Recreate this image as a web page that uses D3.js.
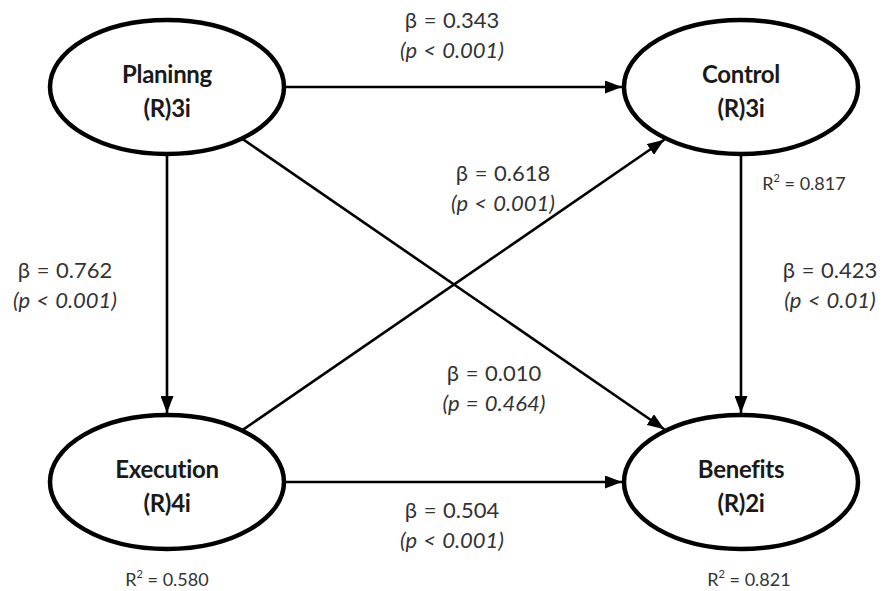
<!DOCTYPE html>
<html>
<head>
<meta charset="utf-8">
<script src="https://cdn.jsdelivr.net/npm/d3@7"></script>
<style>
  body { margin: 0; background: #fff; }
  svg { display: block; }
</style>
</head>
<body>
<div id="diagram"></div>
<script>
// constructs (col / row on a 2x2 grid)
var nodeNames = ["Planinng", "Control", "Execution", "Benefits"];
var nodeSubs = ["(R)3i", "(R)3i", "(R)4i", "(R)2i"];
var nodeCols = [0, 1, 0, 1];
var nodeRows = [0, 0, 1, 1];
var nodeR2 = [null, "0.817", "0.580", "0.821"];

// structural paths
var pathFrom = ["Planinng", "Execution", "Planinng", "Control", "Planinng", "Execution"];
var pathTo = ["Control", "Control", "Execution", "Benefits", "Benefits", "Benefits"];
var pathBeta = ["0.343", "0.618", "0.762", "0.423", "0.010", "0.504"];
var pathP = ["p < 0.001", "p < 0.001", "p < 0.001", "p < 0.01", "p = 0.464", "p < 0.001"];

var width = 884, height = 591;
var rx = 117, ry = 67;

var svg = d3.select("#diagram")
  .append("svg")
  .attr("width", width)
  .attr("height", height);

var x = d3.scaleLinear().domain([0, 1]).range([167, 741]);
var y = d3.scaleLinear().domain([0, 1]).range([87, 482]);

var nodes = nodeNames.map(function(n, i) {
  return {name: n, sub: nodeSubs[i], cx: x(nodeCols[i]), cy: y(nodeRows[i]), r2: nodeR2[i]};
});
var byName = {};
nodes.forEach(function(d) { byName[d.name] = d; });

// arrow head
svg.append("defs").append("marker")
  .attr("id", "head")
  .attr("markerUnits", "userSpaceOnUse")
  .attr("viewBox", "0 0 17 13")
  .attr("refX", 17).attr("refY", 6.5)
  .attr("markerWidth", 17).attr("markerHeight", 13)
  .attr("orient", "auto")
  .append("path")
  .attr("d", "M0,0 L17,6.5 L0,13 Z")
  .attr("fill", "#000");

// point where a ray from the centre leaves the ellipse
function edge(c, dx, dy, pad) {
  var t = 1 / Math.sqrt(Math.pow(dx / (rx + pad), 2) + Math.pow(dy / (ry + pad), 2));
  return [c.cx + dx * t, c.cy + dy * t];
}

var paths = pathFrom.map(function(f, i) {
  var s = byName[f], t = byName[pathTo[i]];
  var dx = t.cx - s.cx, dy = t.cy - s.cy;
  return {a: edge(s, dx, dy, 1), b: edge(t, -dx, -dy, 2), beta: pathBeta[i], p: pathP[i]};
});

svg.selectAll("line.path")
  .data(paths)
  .enter()
  .append("line")
  .attr("class", "path")
  .attr("x1", function(d) { return d.a[0]; })
  .attr("y1", function(d) { return d.a[1]; })
  .attr("x2", function(d) { return d.b[0]; })
  .attr("y2", function(d) { return d.b[1]; })
  .attr("stroke", "#000")
  .attr("stroke-width", 2.6)
  .attr("marker-end", "url(#head)");

// ellipses
var g = svg.selectAll("g.node")
  .data(nodes)
  .enter()
  .append("g")
  .attr("class", "node")
  .attr("transform", function(d) { return "translate(" + d.cx + "," + d.cy + ")"; })
  .style("font-family", "Lato, 'Open Sans', sans-serif")
  .style("font-weight", "bold")
  .style("font-size", "24px")
  .style("letter-spacing", "-0.3px")
  .attr("fill", "#1a1a1a");

g.append("ellipse")
  .attr("rx", rx).attr("ry", ry)
  .attr("fill", "#fff")
  .attr("stroke", "#000")
  .attr("stroke-width", 4.5);

g.append("text")
  .attr("text-anchor", "middle")
  .attr("y", -4)
  .text(function(d) { return d.name; });

g.append("text")
  .attr("text-anchor", "middle")
  .attr("y", 30)
  .text(function(d) { return d.sub; });

// label placement for each path (same order as the path arrays)
var labelPos = [[452, 28], [503, 181], [65, 278], [830, 278], [494, 381], [452, 518]];

var lab = svg.selectAll("g.lab")
  .data(paths)
  .enter()
  .append("g")
  .attr("class", "lab")
  .attr("transform", function(d, i) { return "translate(" + labelPos[i][0] + "," + labelPos[i][1] + ")"; })
  .style("font-family", "Lato, 'Open Sans', sans-serif")
  .style("font-size", "22px")
  .style("word-spacing", "1px")
  .attr("fill", "#333");

lab.append("text")
  .attr("text-anchor", "middle")
  .text(function(d) { return "\u03B2 = " + d.beta; });

lab.append("text")
  .attr("text-anchor", "middle")
  .attr("y", 30)
  .style("font-style", "italic")
  .text(function(d) { return "(" + d.p + ")"; });

// R squared labels
var r2Pos = {"Control": [804, 190], "Execution": [167, 586], "Benefits": [749, 586]};

var r2 = svg.selectAll("text.r2")
  .data(nodes.filter(function(d) { return d.r2; }))
  .enter()
  .append("text")
  .attr("class", "r2")
  .attr("text-anchor", "middle")
  .attr("x", function(d) { return r2Pos[d.name][0]; })
  .attr("y", function(d) { return r2Pos[d.name][1]; })
  .style("font-family", "Lato, 'Open Sans', sans-serif")
  .style("font-size", "18px")
  .attr("fill", "#333");

r2.append("tspan").text("R");
r2.append("tspan").attr("dy", -8).style("font-size", "11px").text("2");
r2.append("tspan").attr("dy", 8).text(" = ");
r2.append("tspan").text(function(d) { return d.r2; });
</script>
</body>
</html>
